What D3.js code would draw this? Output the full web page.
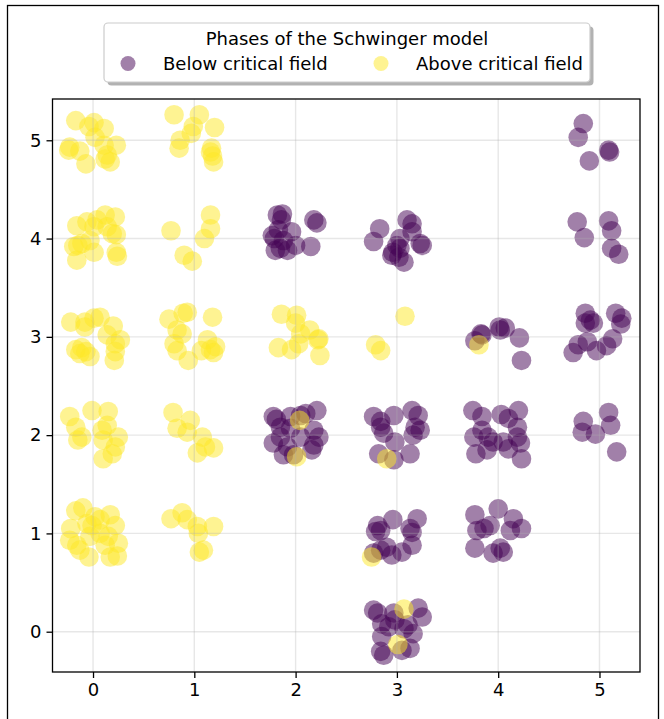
<!DOCTYPE html>
<html><head><meta charset="utf-8">
<script src="https://cdn.jsdelivr.net/npm/d3@7"></script>
<style>body{margin:0;background:#fff} svg{display:block;font-family:"DejaVu Sans",sans-serif}</style>
</head><body><svg id="c" width="664" height="719"></svg>
<script>
// ---- data ----
const xTicks = [0, 1, 2, 3, 4, 5];
const yTicks = [0, 1, 2, 3, 4, 5];
const legendTitle = "Phases of the Schwinger model";
const seriesNames = ["Below critical field", "Above critical field"];
const seriesColors = ["#440154", "#fde725"];

// Below critical field (purple)
const belowPoints = [
 [1.82,4.24],[1.87,4.25],[1.86,4.19],[2.21,4.16],[2.18,4.19],[1.77,4.03],[1.83,4.09],[1.96,4.07],[1.80,3.88],[1.85,3.90],[1.92,3.88],[2.00,3.93],[2.15,3.92],[1.79,4.00],[1.88,3.98],
 [2.83,4.10],[2.77,3.97],[3.10,4.19],[3.15,4.15],[3.15,4.07],[3.23,3.95],[3.25,3.93],[3.00,3.93],[3.03,3.90],[2.95,3.83],[3.07,3.76],[3.02,3.81],[3.03,4.00],[2.96,3.86],
 [4.84,5.17],[4.79,5.03],[4.90,4.79],[5.09,4.90],[5.10,4.88],
 [4.78,4.17],[4.85,4.01],[5.09,4.18],[5.12,4.08],[5.12,3.90],[5.19,3.84],
 [3.77,2.96],[3.83,3.03],[4.01,3.10],[4.07,3.09],[4.21,2.99],[4.23,2.76],[3.84,3.02],[4.02,3.07],
 [4.86,3.24],[4.86,3.14],[4.94,3.14],[5.16,3.24],[5.22,3.19],[5.21,3.13],[5.13,2.98],[5.07,2.91],[4.97,2.86],[4.88,2.95],[4.79,2.92],[4.74,2.84],[4.91,3.17],
 [1.78,2.19],[1.81,2.16],[1.95,2.19],[2.05,2.20],[2.21,2.25],[2.10,2.22],[1.85,2.08],[2.23,1.98],[2.18,2.05],[1.78,1.92],[1.85,1.98],[1.92,1.88],[1.88,1.80],[2.18,1.90],[2.16,1.85],[1.98,1.80],[2.05,1.98],[1.95,2.07],
 [2.77,2.19],[2.84,2.14],[2.97,2.20],[3.15,2.25],[3.21,2.20],[3.18,2.08],[3.23,2.05],[2.87,2.02],[2.98,1.93],[2.82,1.81],[2.97,1.75],[3.13,1.81],[3.16,2.00],[2.84,2.08],
 [3.75,2.25],[3.84,2.19],[4.03,2.21],[4.20,2.25],[4.10,2.17],[3.84,2.05],[3.76,1.98],[4.19,2.08],[3.95,1.93],[4.05,1.93],[4.19,1.98],[3.78,1.81],[3.89,1.85],[4.10,1.86],[4.22,1.92],[4.23,1.76],[3.90,1.98],
 [4.84,2.14],[4.83,2.03],[4.96,2.01],[5.09,2.23],[5.11,2.10],[5.17,1.83],
 [2.81,1.08],[2.79,1.02],[2.96,1.14],[3.20,1.15],[3.13,1.05],[3.15,1.01],[2.84,0.83],[2.95,0.78],[3.05,0.81],[3.15,0.88],[2.90,0.86],[2.77,0.80],[2.84,1.03],
 [3.77,1.19],[4.00,1.25],[4.15,1.15],[4.23,1.05],[3.86,1.05],[3.79,1.03],[3.77,0.85],[3.95,0.80],[4.05,0.81],[4.02,0.85],[3.92,1.08],[4.12,1.03],
 [2.77,0.22],[2.81,0.19],[2.97,0.19],[3.21,0.24],[3.25,0.15],[2.85,0.08],[2.92,0.05],[3.07,0.03],[3.16,-0.02],[2.85,-0.05],[3.13,-0.17],[2.84,-0.20],[2.87,-0.24],[3.05,-0.19],[2.98,0.12],[3.11,0.07]
];

// Above critical field (yellow)
const abovePoints = [
 [-0.17,5.20],[0.01,5.18],[-0.04,5.14],[0.11,5.12],[0.02,5.03],[-0.23,4.93],[-0.24,4.90],[-0.13,4.89],[0.11,4.95],[0.23,4.95],[-0.07,4.76],[0.12,4.81],[0.17,4.78],[0.14,4.85],
 [0.80,5.26],[1.05,5.26],[0.99,5.14],[1.20,5.13],[0.97,5.07],[0.86,5.00],[0.85,4.92],[1.17,4.92],[1.16,4.88],[1.19,4.78],[1.18,4.84],
 [-0.16,4.13],[-0.06,4.17],[0.04,4.19],[0.12,4.24],[0.22,4.22],[0.14,4.12],[0.01,4.12],[0.19,4.05],[0.23,4.04],[-0.03,3.98],[-0.11,3.95],[-0.19,3.92],[-0.15,3.93],[0.01,3.86],[0.23,3.86],[-0.16,3.78],[0.24,3.82],
 [1.16,4.24],[1.16,4.10],[0.77,4.08],[1.10,4.00],[0.90,3.83],[0.98,3.77],
 [1.86,3.23],[2.01,3.22],[2.00,3.14],[2.14,3.07],[2.05,3.03],[2.23,2.98],[2.22,2.97],[1.83,2.89],[1.96,2.87],[2.03,2.93],[2.24,2.81],
 [3.08,3.21],[2.79,2.92],[2.84,2.86],
 [-0.22,3.15],[-0.08,3.15],[0.01,3.19],[0.07,3.20],[-0.08,3.10],[0.20,3.11],[0.14,3.02],[0.27,2.97],[0.22,2.93],[-0.17,2.87],[-0.11,2.89],[-0.13,2.83],[-0.03,2.80],[0.22,2.85],[0.21,2.76],[-0.07,2.85],
 [0.75,3.18],[0.89,3.24],[0.93,3.25],[1.18,3.20],[0.83,3.07],[0.88,3.03],[0.80,2.93],[0.83,2.86],[0.94,2.76],[1.13,2.97],[1.07,2.86],[1.21,2.90],[1.16,2.87],[1.19,2.84],
 [-0.23,2.19],[-0.01,2.25],[0.15,2.24],[-0.17,2.08],[-0.11,1.98],[0.14,2.10],[0.09,2.05],[0.25,1.98],[0.10,1.95],[0.22,1.88],[0.19,1.81],[0.10,1.76],[-0.15,1.95],
 [0.79,2.23],[0.96,2.15],[0.83,2.07],[0.93,2.03],[1.08,1.98],[1.03,1.82],[1.11,1.88],[1.19,1.87],
 [-0.17,1.23],[-0.10,1.26],[-0.22,1.05],[-0.06,1.10],[0.02,1.17],[0.17,1.19],[0.22,1.08],[-0.23,0.93],[-0.16,0.88],[-0.03,0.97],[0.07,1.00],[0.15,0.97],[0.25,0.90],[-0.04,0.76],[0.17,0.76],[0.24,0.77],[-0.13,0.83],[0.12,0.88],[-0.01,1.08],[0.07,1.14],
 [0.77,1.15],[0.88,1.21],[0.93,1.14],[1.03,1.07],[1.19,1.07],[1.04,1.00],[1.05,0.81],[1.09,0.83],
 [2.04,2.15],[2.01,1.78],[2.90,1.76],[3.81,2.92],[2.75,0.76],[3.07,0.23],[3.01,-0.13]
];

// ---- drawing ----
const W = 664, H = 719;
const plot = {left: 52.5, right: 640, top: 99, bottom: 672};
const svg = d3.select("#c");

// figure border
svg.append("rect").attr("x", 7.5).attr("y", 5.5).attr("width", 651).attr("height", 740)
  .attr("fill", "none").attr("stroke", "#000").attr("stroke-width", 1.3);

const x = d3.scaleLinear().domain([-0.4, 5.4]).range([plot.left, plot.right]);
const y = d3.scaleLinear().domain([-0.41, 5.42]).range([plot.bottom, plot.top]);

// points
const ptR = 9.8;
const gPts = svg.append("g");
gPts.selectAll("circle.b").data(belowPoints).join("circle").attr("class","b")
  .attr("cx", d => x(d[0])).attr("cy", d => y(d[1])).attr("r", ptR)
  .attr("fill", seriesColors[0]).attr("fill-opacity", 0.5);
gPts.selectAll("circle.a").data(abovePoints).join("circle").attr("class","a")
  .attr("cx", d => x(d[0])).attr("cy", d => y(d[1])).attr("r", ptR)
  .attr("fill", seriesColors[1]).attr("fill-opacity", 0.5);

// grid
const grid = svg.append("g").attr("stroke", "#b0b0b0").attr("stroke-opacity", 0.3).attr("stroke-width", 1.4);
grid.selectAll("line.gx").data(xTicks).join("line").attr("class","gx")
  .attr("x1", d => x(d)).attr("x2", d => x(d)).attr("y1", plot.top).attr("y2", plot.bottom);
grid.selectAll("line.gy").data(yTicks).join("line").attr("class","gy")
  .attr("y1", d => y(d)).attr("y2", d => y(d)).attr("x1", plot.left).attr("x2", plot.right);

// axes
const xAxis = d3.axisBottom(x).tickValues(xTicks).tickFormat(d3.format("d")).tickSize(6).tickSizeOuter(0).tickPadding(5);
const yAxis = d3.axisLeft(y).tickValues(yTicks).tickFormat(d3.format("d")).tickSize(6).tickSizeOuter(0).tickPadding(5);
const gx = svg.append("g").attr("transform", `translate(0,${plot.bottom})`).call(xAxis);
const gy = svg.append("g").attr("transform", `translate(${plot.left},0)`).call(yAxis);
[gx, gy].forEach(g => {
  g.select(".domain").remove();
  g.selectAll(".tick line").attr("stroke", "#000").attr("stroke-width", 1.3);
  g.selectAll(".tick text").attr("fill", "#000").attr("font-size", 18).attr("font-family", "DejaVu Sans");
});
svg.append("rect").attr("x", plot.left).attr("y", plot.top)
  .attr("width", plot.right - plot.left).attr("height", plot.bottom - plot.top)
  .attr("fill", "none").attr("stroke", "#000").attr("stroke-width", 1.3);

// legend
const lg = svg.append("g");
const L = {x: 104, y: 23, w: 486, h: 59};
lg.append("rect").attr("x", L.x + 3.5).attr("y", L.y + 3.5).attr("width", L.w).attr("height", L.h)
  .attr("rx", 4).attr("fill", "#000").attr("fill-opacity", 0.3);
lg.append("rect").attr("x", L.x).attr("y", L.y).attr("width", L.w).attr("height", L.h)
  .attr("rx", 4).attr("fill", "#fff").attr("stroke", "#cccccc").attr("stroke-width", 1.2);
lg.append("text").attr("x", L.x + L.w / 2).attr("y", 44.5).attr("text-anchor", "middle")
  .attr("font-size", 18).text(legendTitle);
const entryX = [128, 381];
seriesNames.forEach((name, i) => {
  lg.append("circle").attr("cx", entryX[i]).attr("cy", 63.5).attr("r", 7.5)
    .attr("fill", seriesColors[i]).attr("fill-opacity", 0.5);
  lg.append("text").attr("x", entryX[i] + 35).attr("y", 70).attr("font-size", 18).text(name);
});
</script></body></html>
